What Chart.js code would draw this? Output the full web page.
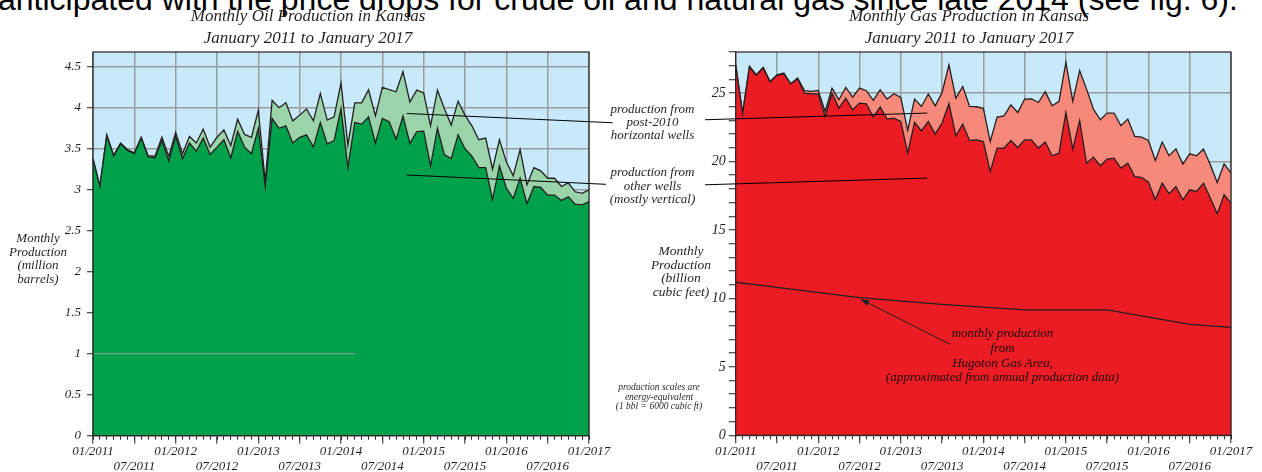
<!DOCTYPE html>
<html>
<head>
<meta charset="utf-8">
<script src="https://cdn.jsdelivr.net/npm/chart.js@4.4.1/dist/chart.umd.min.js"></script>
<style>
  html, body { margin: 0; padding: 0; background: #fff; }
  body { width: 1262px; height: 472px; position: relative; overflow: hidden; }
  canvas { position: absolute; top: 0; }
  #oilChart { left: 0; }
  #gasChart { left: 631px; }
  .txt { position: absolute; font-family: 'Liberation Serif', 'Times New Roman', serif; font-style: italic;
         color: #231F20; text-align: center; white-space: nowrap; }
  #lead { position: absolute; left: -2px; top: -17px; font-family: 'Liberation Sans', Arial, sans-serif;
          font-size: 32px; line-height: 32px; white-space: nowrap; color: #000; }
</style>
</head>
<body>
<div id="lead">anticipated with the price drops for crude oil and natural gas since late 2014 (see fig. 6).</div>
<canvas id="oilChart" width="631" height="472"></canvas>
<canvas id="gasChart" width="631" height="472"></canvas>

<div class="txt" style="left:108px;top:5px;width:400px;font-size:17px;line-height:22px;">Monthly Oil Production in Kansas<br>January 2011 to January 2017</div>
<div class="txt" style="left:769px;top:5px;width:400px;font-size:17px;line-height:22px;">Monthly Gas Production in Kansas<br>January 2011 to January 2017</div>

<div class="txt" style="left:-2px;top:231px;width:80px;font-size:13px;line-height:13.5px;">Monthly<br>Production<br>(million<br>barrels)</div>
<div class="txt" style="left:631px;top:244px;width:100px;font-size:13.5px;line-height:13.7px;">Monthly<br>Production<br>(billion<br>cubic feet)</div>

<div class="txt" style="left:582px;top:102px;width:141px;font-size:13px;line-height:13px;">production from<br>post-2010<br>horizontal wells</div>
<div class="txt" style="left:582px;top:165px;width:141px;font-size:13px;line-height:13.5px;">production from<br>other wells<br>(mostly vertical)</div>

<div class="txt" style="left:609px;top:383px;width:100px;font-size:9.5px;line-height:9.5px;">production scales are<br>energy-equivalent<br>(1 bbl = 6000 cubic ft)</div>

<div class="txt" style="left:852px;top:326px;width:301px;font-size:13px;line-height:14.8px;color:#1a0a0a;">monthly production<br>from<br>Hugoton Gas Area,<br>(approximated from annual production data)</div>

<script>
// months Jan 2011 .. Jan 2017
const months = []
for (let y = 2011; y <= 2017; y++) {
    for (let m = 1; m <= 12; m++) {
        if (y === 2017 && m > 1) break
        months.push((m < 10 ? '0' + m : '' + m) + '/' + y)
    }
}

// oil, million barrels per month
const oilOtherWells = [
    3.37, 3.04, 3.66, 3.41, 3.56, 3.48, 3.44, 3.63, 3.40, 3.39, 3.60, 3.35,
    3.655, 3.38, 3.57, 3.47, 3.63, 3.43, 3.52, 3.61, 3.39, 3.71, 3.52, 3.44,
    3.75, 3.04, 3.87, 3.75, 3.78, 3.57, 3.64, 3.67, 3.52, 3.82, 3.56, 3.60,
    3.99, 3.27, 3.82, 3.80, 3.89, 3.57, 3.87, 3.83, 3.615, 3.90, 3.565, 3.71,
    3.715, 3.29, 3.75, 3.43, 3.38, 3.67, 3.50, 3.41, 3.27, 3.27, 2.88, 3.29,
    3.02, 2.895, 3.14, 2.83, 3.04, 3.03, 2.935, 2.935, 2.87, 2.915, 2.825, 2.815,
    2.855
]
const oilAllWells = [
    3.38, 3.045, 3.67, 3.42, 3.57, 3.49, 3.45, 3.64, 3.415, 3.41, 3.64, 3.41,
    3.70, 3.44, 3.65, 3.57, 3.74, 3.52, 3.64, 3.73, 3.54, 3.86, 3.675, 3.64,
    3.97, 3.10, 4.09, 4.00, 4.06, 3.84, 3.91, 3.985, 3.84, 4.175, 3.85, 3.89,
    4.30, 3.545, 4.06, 4.06, 4.22, 3.90, 4.25, 4.22, 4.195, 4.44, 4.07, 4.215,
    4.18, 3.78, 4.215, 3.99, 3.79, 4.08, 3.91, 3.78, 3.61, 3.63, 3.25, 3.61,
    3.34, 3.17, 3.49, 3.06, 3.27, 3.23, 3.14, 3.14, 3.04, 3.085, 2.975, 2.955,
    3.00
]
// stray grey rule at 1 in the oil panel
const oilRuleMonths = ['01/2011', '03/2014']
const oilRuleValues = [1, 1]

// gas, billion cubic feet per month
const gasOtherWells = [
    27.07, 23.5, 26.9, 26.3, 26.85, 25.8, 26.3, 26.4, 25.65, 26.05, 25.0, 24.95,
    24.92, 23.29, 24.99, 23.90, 24.63, 23.78, 24.27, 24.22, 23.25, 23.98, 23.10, 23.17,
    22.92, 20.61, 22.85, 22.24, 22.92, 22.00, 22.81, 24.22, 21.88, 22.73, 21.54, 21.58,
    21.46, 19.27, 20.98, 20.98, 21.54, 21.02, 21.58, 21.58, 20.98, 21.42, 20.42, 20.61,
    23.58, 20.91, 23.0, 19.88, 20.32, 19.69, 20.18, 20.25, 19.52, 19.88, 18.90, 18.85,
    18.49, 17.2, 18.42, 17.64, 18.17, 17.2, 17.93, 17.81, 18.42, 17.32, 16.18, 17.57,
    16.96
]
const gasAllWells = [
    27.07, 23.54, 26.95, 26.34, 26.87, 25.85, 26.34, 26.46, 25.68, 26.10, 25.17, 25.12,
    25.19, 23.66, 25.36, 24.51, 25.41, 24.71, 25.36, 25.17, 24.46, 25.24, 24.56, 24.95,
    24.68, 22.27, 24.56, 24.02, 24.93, 24.07, 25.04, 27.07, 24.63, 25.48, 24.02, 24.0,
    23.88, 21.46, 23.25, 23.34, 24.14, 23.58, 24.56, 24.58, 24.31, 25.10, 24.07, 24.39,
    27.24, 24.39, 26.65, 25.29, 23.83, 23.05, 23.54, 23.54, 22.61, 23.10, 21.83, 21.78,
    21.54, 20.07, 21.42, 20.42, 20.93, 19.81, 20.56, 20.42, 20.91, 19.76, 18.46, 19.83,
    19.15
]
const hugotonMonths = ['01/2011', '07/2011', '07/2012', '07/2013', '07/2014', '07/2015', '07/2016', '01/2017']
const hugotonValues = [11.18, 10.80, 10.06, 9.56, 9.16, 9.16, 8.11, 7.89]

const INK = '#231F20'
const GRID = '#9B9B9B'
const SKY = '#C7E9F9'
const SERIF = "'Liberation Serif', 'Times New Roman', serif"

function xy(labels, values) {
    return values.map((v, i) => ({ x: labels[i], y: v }))
}

// leader lines, given in data units (month index, value)
function leaderPlugin(lines, arrow) {
    return {
        id: 'leaders',
        afterDatasetsDraw(chart) {
            const c = chart.ctx, xs = chart.scales.x, ys = chart.scales.y
            const area = chart.chartArea
            c.save()
            // frame
            c.strokeStyle = INK
            c.lineWidth = 1.2
            c.strokeRect(area.left, area.top, area.right - area.left, area.bottom - area.top)
            c.lineWidth = 1
            c.strokeStyle = '#000'
            lines.forEach(l => {
                c.beginPath()
                c.moveTo(xs.getPixelForValue(l[0]), ys.getPixelForValue(l[1]))
                c.lineTo(xs.getPixelForValue(l[2]), ys.getPixelForValue(l[3]))
                c.stroke()
            })
            if (arrow) {
                const x0 = xs.getPixelForValue(arrow[0]), y0 = ys.getPixelForValue(arrow[1])
                const x1 = xs.getPixelForValue(arrow[2]), y1 = ys.getPixelForValue(arrow[3])
                c.strokeStyle = INK
                c.fillStyle = INK
                c.beginPath(); c.moveTo(x0, y0); c.lineTo(x1, y1); c.stroke()
                const a = Math.atan2(y1 - y0, x1 - x0)
                c.beginPath()
                c.moveTo(x1, y1)
                c.lineTo(x1 - 9 * Math.cos(a - 0.35), y1 - 9 * Math.sin(a - 0.35))
                c.lineTo(x1 - 9 * Math.cos(a + 0.35), y1 - 9 * Math.sin(a + 0.35))
                c.closePath()
                c.fill()
            }
            c.restore()
        }
    }
}

const skyPlugin = {
    id: 'sky',
    beforeDraw(chart) {
        const a = chart.chartArea, c = chart.ctx
        c.save()
        c.fillStyle = SKY
        c.fillRect(a.left, a.top, a.right - a.left, a.bottom - a.top)
        c.restore()
    }
}

function xScales(bottomHeight) {
    return {
        x: {
            type: 'category', position: 'bottom', weight: 0, offset: false,
            grid: { drawOnChartArea: false, tickLength: 4, tickColor: INK, tickWidth: 1 },
            border: { display: false },
            ticks: { display: false },
            afterFit(s) { s.height = 0 }
        },
        xMajor: {
            type: 'category', position: 'bottom', weight: 1, offset: false,
            grid: {
                drawOnChartArea: true, tickLength: 8, lineWidth: 1.5, tickWidth: 1,
                color: ctx => ctx.index % 6 === 0 ? GRID : 'rgba(0,0,0,0)',
                tickColor: ctx => ctx.index % 6 === 0 ? INK : 'rgba(0,0,0,0)'
            },
            border: { display: false },
            ticks: {
                autoSkip: false, maxRotation: 0, minRotation: 0, padding: 0.5, color: INK,
                font: { family: SERIF, style: 'italic', size: 13, lineHeight: 1.15 },
                callback(v, i) {
                    const lab = months[i]
                    if (lab.startsWith('01/')) return lab
                    if (lab.startsWith('07/')) return ['', lab]
                    return ''
                }
            },
            afterFit(s) { s.height = bottomHeight }
        }
    }
}

const baseOptions = {
    responsive: false,
    animation: false,
    events: [],
    plugins: { legend: { display: false }, tooltip: { enabled: false } },
    elements: { point: { radius: 0 }, line: { tension: 0 } }
}

// ---- oil ----
const oilScales = xScales(472 - 435.7)
oilScales.y = {
    min: 0, max: 4.68,
    grid: { color: GRID, lineWidth: 1.5, tickColor: INK, tickWidth: 1, tickLength: 6 },
    border: { display: false },
    ticks: {
        stepSize: 0.5, includeBounds: false, autoSkip: false, padding: 6, color: INK,
        font: { family: SERIF, style: 'italic', size: 13 },
        callback: v => String(v)
    },
    afterFit(s) { s.width = 93 }
}

new Chart(document.getElementById('oilChart'), {
    type: 'line',
    data: {
        labels: months,
        datasets: [
            {
                label: 'production from other wells',
                data: oilOtherWells,
                borderColor: INK, borderWidth: 1.3,
                backgroundColor: '#00A14B', fill: 'origin'
            },
            {
                label: 'production from post-2010 horizontal wells',
                data: oilAllWells,
                borderColor: INK, borderWidth: 1.3,
                backgroundColor: '#9BD4AB', fill: '-1'
            },
            {
                label: 'rule',
                data: xy(oilRuleMonths, oilRuleValues),
                borderColor: GRID, borderWidth: 1, fill: false, order: -1
            }
        ]
    },
    options: Object.assign({}, baseOptions, {
        layout: { padding: { left: 0, right: 42, top: 52, bottom: 0 } },
        scales: oilScales
    }),
    plugins: [skyPlugin, leaderPlugin([
        [45.54, 3.93, 75.44, 3.817],
        [45.54, 3.18, 74.47, 3.066]
    ])]
})

// ---- gas ----
const gasScales = xScales(472 - 435.3)
gasScales.y = {
    min: 0, max: 28,
    grid: {
        lineWidth: 1.5, tickColor: INK, tickWidth: 1, tickLength: 7,
        color: ctx => (ctx.tick && ctx.tick.value % 5 === 0) ? GRID : 'rgba(0,0,0,0)'
    },
    border: { display: false },
    ticks: {
        stepSize: 1, autoSkip: false, padding: 3, color: INK,
        font: { family: SERIF, style: 'italic', size: 14 },
        callback: v => (v % 5 === 0 ? String(v) : '')
    },
    afterFit(s) { s.width = 104.7 }
}

new Chart(document.getElementById('gasChart'), {
    type: 'line',
    data: {
        labels: months,
        datasets: [
            {
                label: 'production from other wells',
                data: gasOtherWells,
                borderColor: INK, borderWidth: 1.3,
                backgroundColor: '#EC1C24', fill: 'origin'
            },
            {
                label: 'production from post-2010 horizontal wells',
                data: gasAllWells,
                borderColor: INK, borderWidth: 1.3,
                backgroundColor: '#F7897A', fill: '-1'
            },
            {
                label: 'Hugoton Gas Area',
                data: xy(hugotonMonths, hugotonValues),
                borderColor: INK, borderWidth: 1.3, fill: false, order: -1
            }
        ]
    },
    options: Object.assign({}, baseOptions, {
        layout: { padding: { left: 0, right: 31, top: 52, bottom: 0 } },
        scales: gasScales
    }),
    plugins: [skyPlugin, leaderPlugin([
        [-4.46, 23.05, 27.85, 23.54],
        [-4.46, 18.30, 27.85, 18.79]
    ], [31.15, 6.65, 18.17, 9.94])]
})
</script>
</body>
</html>
